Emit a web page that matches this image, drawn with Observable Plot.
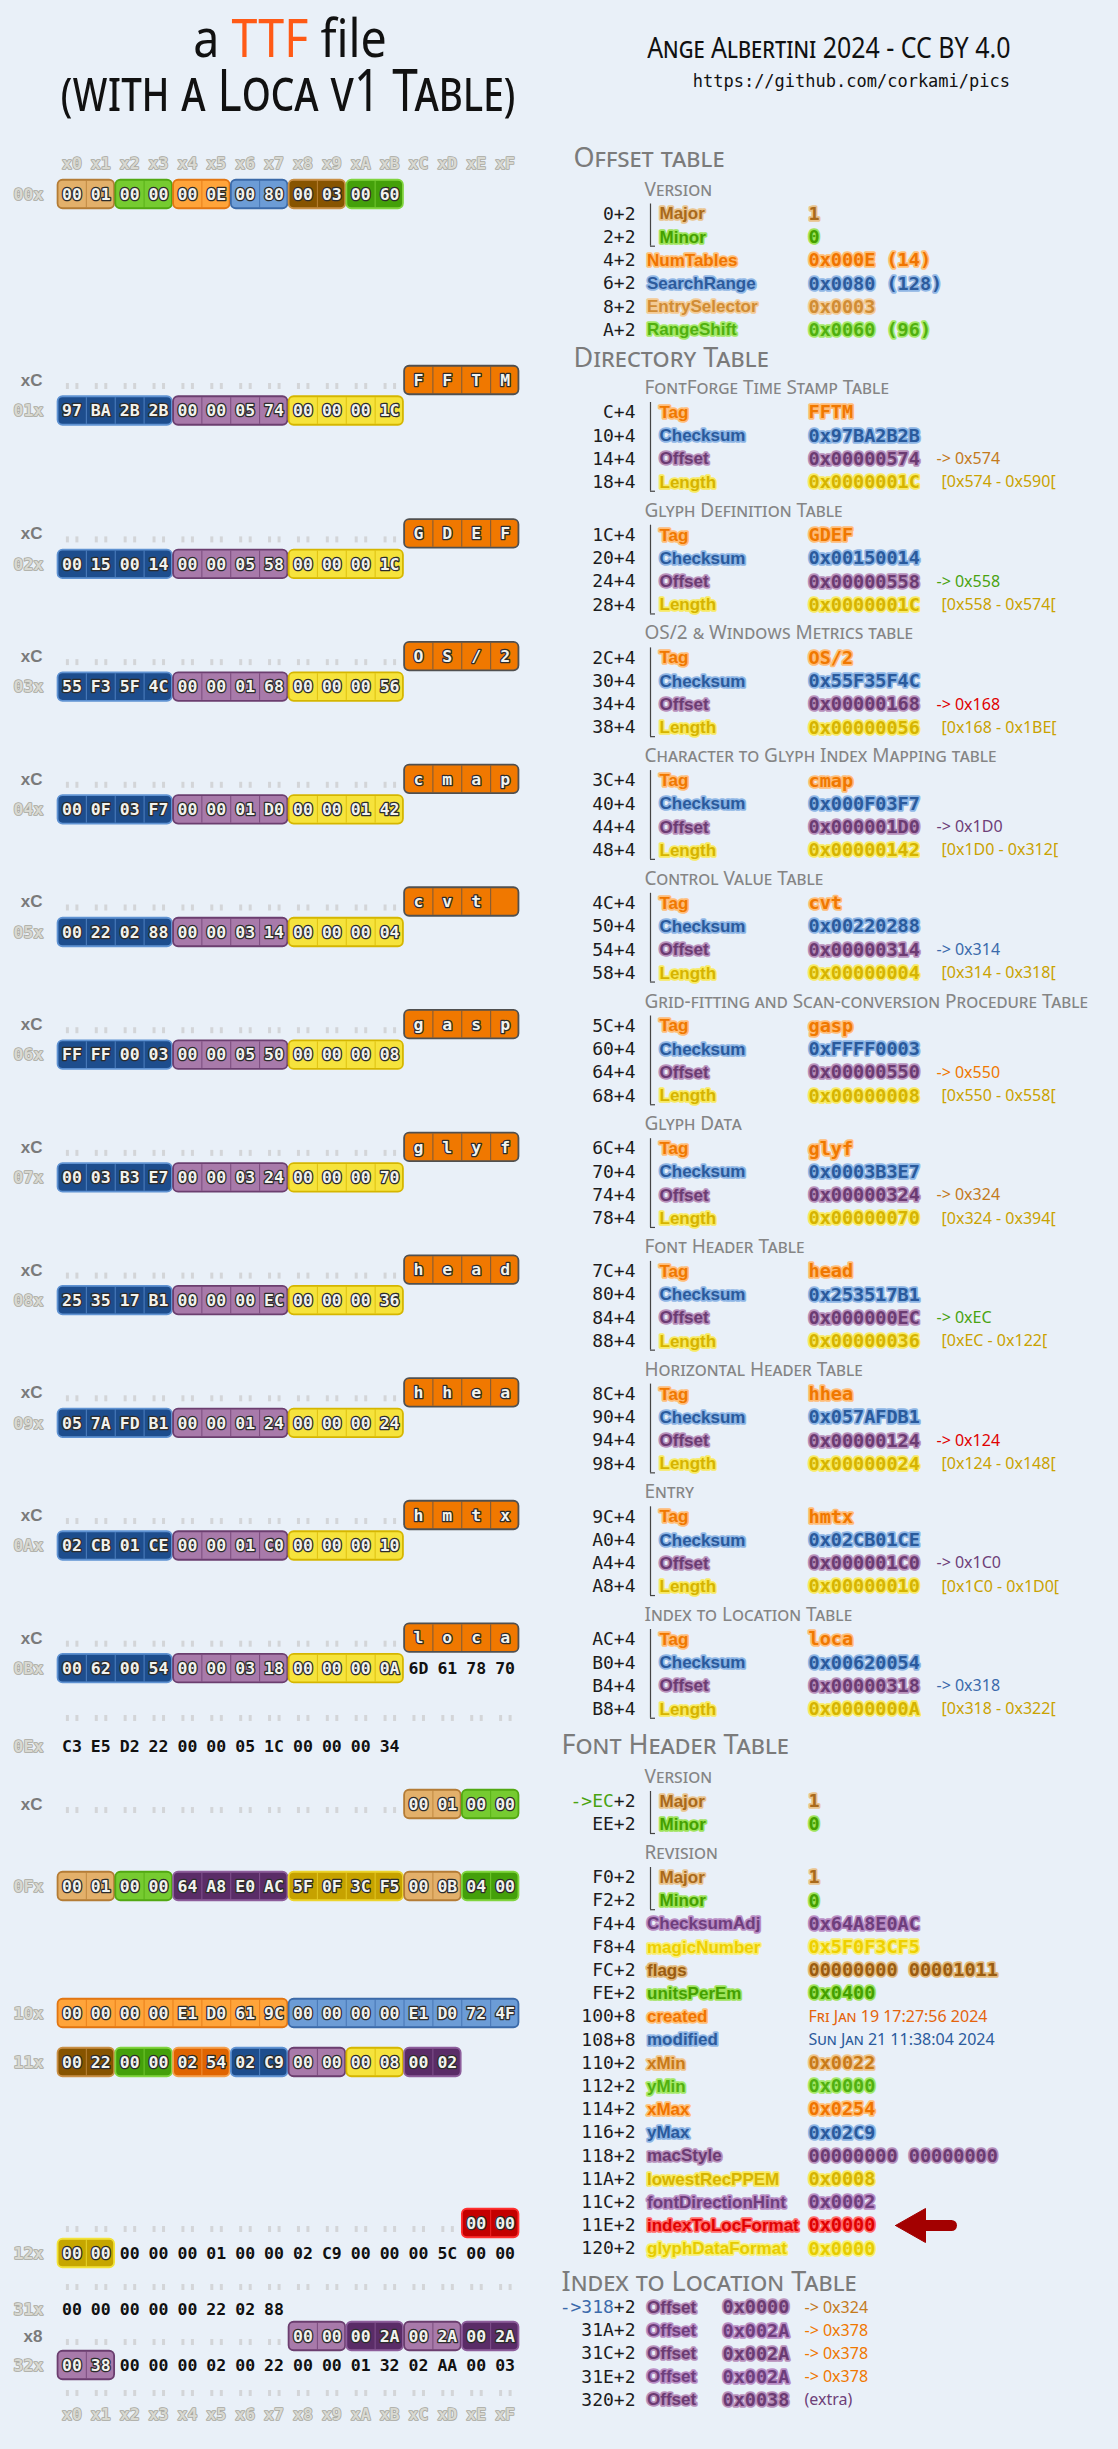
<!DOCTYPE html>
<html><head><meta charset="utf-8">
<script src="https://cdn.jsdelivr.net/npm/d3@7"></script>
<script src="https://cdn.jsdelivr.net/npm/@observablehq/plot@0.6"></script>
<style>
html,body{margin:0;padding:0;background:#e9f0f8;}
#page{position:relative;width:1118px;height:2449px;overflow:hidden;background:#e9f0f8;}
#head{position:absolute;left:0;top:0;width:1118px;height:140px;}
#head > div{position:absolute;white-space:nowrap;}
.t1{left:0;width:580px;text-align:center;top:17px;height:40px;line-height:40px;font:48px/40px "Noto Sans",sans-serif;color:#111;transform:scale(0.97,1.1);}
.t1 .ttf{color:#ff5a16;}
.t2{left:0;width:576px;text-align:center;top:68px;height:40px;font:46px/40px "Noto Sans",sans-serif;font-variant:small-caps;color:#111;transform:scale(1,1.25);}
.cr{right:108px;top:35px;height:24px;font:26px/24px "Noto Sans",sans-serif;font-variant:small-caps;color:#111;transform:scale(0.96,1.13);transform-origin:right center;}
.url{right:108px;top:72px;height:18px;font:17px/18px "DejaVu Sans Mono",monospace;color:#111;}
#chart{position:absolute;left:0;top:140px;}
</style></head>
<body><div id="page">
<div id="head">
  <div class="t1">a <span class="ttf">TTF</span> file</div>
  <div class="t2">(with a Loca v1 Table)</div>
  <div class="cr">Ange Albertini 2024 - CC BY 4.0</div>
  <div class="url">https://github.com/corkami/pics</div>
</div>
<div id="chart"></div>
</div>
<script>
// ================= DATA =================
const columnLabels = ["x0","x1","x2","x3","x4","x5","x6","x7","x8","x9","xA","xB","xC","xD","xE","xF"];

// Offset table (file offset 0x00)
const offsetTableBytes = [["00 01","major"],["00 00","minor"],["00 0E","numTables"],["00 80","searchRange"],["00 03","entrySelector"],["00 60","rangeShift"]];
const offsetTableRows = [
  {off:"0", size:2, name:"Major", value:"1", field:"major", group:"Version"},
  {off:"2", size:2, name:"Minor", value:"0", field:"minor", group:"Version"},
  {off:"4", size:2, name:"NumTables", value:"0x000E (14)", field:"numTables"},
  {off:"6", size:2, name:"SearchRange", value:"0x0080 (128)", field:"searchRange"},
  {off:"8", size:2, name:"EntrySelector", value:"0x0003", field:"entrySelector"},
  {off:"A", size:2, name:"RangeShift", value:"0x0060 (96)", field:"rangeShift"}
];

// Directory table entries
const dirTitles = ["FontForge Time Stamp Table","Glyph Definition Table","OS/2 & Windows Metrics table","Character to Glyph Index Mapping table","Control Value Table","Grid-fitting and Scan-conversion Procedure Table","Glyph Data","Font Header Table","Horizontal Header Table","Entry","Index to Location Table"];
const dirTags = ["FFTM","GDEF","OS/2","cmap","cvt ","gasp","glyf","head","hhea","hmtx","loca"];
const dirChecksums = ["97BA2B2B","00150014","55F35F4C","000F03F7","00220288","FFFF0003","0003B3E7","253517B1","057AFDB1","02CB01CE","00620054"];
const dirOffsets = ["00000574","00000558","00000168","000001D0","00000314","00000550","00000324","000000EC","00000124","000001C0","00000318"];
const dirLengths = ["0000001C","0000001C","00000056","00000142","00000004","00000008","00000070","00000036","00000024","00000010","0000000A"];
const dirRanges = ["[0x574 - 0x590[","[0x558 - 0x574[","[0x168 - 0x1BE[","[0x1D0 - 0x312[","[0x314 - 0x318[","[0x550 - 0x558[","[0x324 - 0x394[","[0xEC - 0x122[","[0x124 - 0x148[","[0x1C0 - 0x1D0[","[0x318 - 0x322["];
const dirPointerTones = ["brown","green","red","purple","blue","orange","brown","green","red","purple","blue"];

// Raw bytes elsewhere in the file
const bytes0BC = "6D 61 78 70";
const bytes0E0 = "C3 E5 D2 22 00 00 05 1C 00 00 00 34";
const bytes0EC = [["00 01","major"],["00 00","minor"]];
const bytes0F0 = [["00 01","major"],["00 00","minor"],["64 A8 E0 AC","checksumAdj"],["5F 0F 3C F5","magic"],["00 0B","flags"],["04 00","unitsPerEm"]];
const bytes100 = [["00 00 00 00 E1 D0 61 9C","created"],["00 00 00 00 E1 D0 72 4F","modified"]];
const bytes110 = [["00 22","xMin"],["00 00","yMin"],["02 54","xMax"],["02 C9","yMax"],["00 00","macStyle"],["00 08","lowest"],["00 02","fontDir"]];
const bytes11E = [["00 00","indexToLoc"]];
const bytes120 = [["00 00","glyphData"],["00 00 00 01 00 00 02 C9 00 00 00 5C 00 00",null]];
const bytes310 = [["00 00 00 00 00 22 02 88",null]];
const bytes318 = [["00 00","loca0"],["00 2A","loca1"],["00 2A","loca0"],["00 2A","loca1"]];
const bytes320 = [["00 38","loca0"],["00 00 00 02 00 22 00 00 01 32 02 AA 00 03",null]];

// Font header table
const headRows = [
  {off:"EC", ptr:true, size:2, name:"Major", value:"1", field:"major", group:"Version"},
  {off:"EE", size:2, name:"Minor", value:"0", field:"minor", group:"Version"},
  {off:"F0", size:2, name:"Major", value:"1", field:"major", group:"Revision"},
  {off:"F2", size:2, name:"Minor", value:"0", field:"minor", group:"Revision"},
  {off:"F4", size:4, name:"ChecksumAdj", value:"0x64A8E0AC", field:"checksumAdj"},
  {off:"F8", size:4, name:"magicNumber", value:"0x5F0F3CF5", field:"magic"},
  {off:"FC", size:2, name:"flags", value:"00000000 00001011", field:"flags"},
  {off:"FE", size:2, name:"unitsPerEm", value:"0x0400", field:"unitsPerEm"},
  {off:"100", size:8, name:"created", value:"Fri Jan 19 17:27:56 2024", field:"created", date:true},
  {off:"108", size:8, name:"modified", value:"Sun Jan 21 11:38:04 2024", field:"modified", date:true},
  {off:"110", size:2, name:"xMin", value:"0x0022", field:"xMin"},
  {off:"112", size:2, name:"yMin", value:"0x0000", field:"yMin"},
  {off:"114", size:2, name:"xMax", value:"0x0254", field:"xMax"},
  {off:"116", size:2, name:"yMax", value:"0x02C9", field:"yMax"},
  {off:"118", size:2, name:"macStyle", value:"00000000 00000000", field:"macStyle"},
  {off:"11A", size:2, name:"lowestRecPPEM", value:"0x0008", field:"lowest"},
  {off:"11C", size:2, name:"fontDirectionHint", value:"0x0002", field:"fontDir"},
  {off:"11E", size:2, name:"indexToLocFormat", value:"0x0000", field:"indexToLoc", highlight:true},
  {off:"120", size:2, name:"glyphDataFormat", value:"0x0000", field:"glyphData"}
];

// Index to location table (short offsets)
const locaRows = [
  {off:"318", ptr:true, value:"0x0000", target:"-> 0x324", tone:"brown", field:"loca0"},
  {off:"31A", value:"0x002A", target:"-> 0x378", tone:"orange", field:"loca1"},
  {off:"31C", value:"0x002A", target:"-> 0x378", tone:"orange", field:"loca0"},
  {off:"31E", value:"0x002A", target:"-> 0x378", tone:"orange", field:"loca1"},
  {off:"320", value:"0x0038", target:"(extra)", tone:"purple", field:"loca0"}
];

// ================= STYLES =================
const fieldStyle = {
  major:        {box:"#e3b06a", edge:"#b47c36", ink:"#a9691a", halo:"#e9c48e"},
  minor:        {box:"#76cb30", edge:"#52a812", ink:"#44a000", halo:"#9ee35a"},
  numTables:    {box:"#ffa43a", edge:"#e27612", ink:"#f07400", halo:"#ffbf76"},
  searchRange:  {box:"#6c9cd6", edge:"#3b6aa9", ink:"#2c5b9c", halo:"#91b7e5"},
  entrySelector:{box:"#875400", edge:"#c98f45", ink:"#d08c34", halo:"#f3cb96"},
  rangeShift:   {box:"#44a00a", edge:"#80d43e", ink:"#50b010", halo:"#a4e868"},
  tag:          {box:"#f07800", edge:"#505050", ink:"#f07800", halo:"#ffbd78"},
  checksum:     {box:"#1d4d8d", edge:"#5f92d2", ink:"#2a5a9c", halo:"#8db5e5"},
  offset:       {box:"#a87aaa", edge:"#6b3e6f", ink:"#6b3b72", halo:"#b78fbb"},
  length:       {box:"#f6e33c", edge:"#d5b600", ink:"#d6b400", halo:"#f8ea62"},
  checksumAdj:  {box:"#5a2c67", edge:"#8d5d9b", ink:"#6e3e7c", halo:"#b88cc4"},
  magic:        {box:"#c6a200", edge:"#ecd42c", ink:"#eed000", halo:"#f8ee72"},
  flags:        {box:"#e3b06a", edge:"#b47c36", ink:"#9a5c10", halo:"#e2b878"},
  unitsPerEm:   {box:"#44a00a", edge:"#80d43e", ink:"#44a000", halo:"#9ee35a"},
  created:      {box:"#ffa43a", edge:"#e27612", ink:"#f07400", halo:"#ffbf76", date:"#e4640c"},
  modified:     {box:"#6c9cd6", edge:"#3b6aa9", ink:"#2c5b9c", halo:"#91b7e5", date:"#2c5b9c"},
  xMin:         {box:"#875400", edge:"#c98f45", ink:"#c87a18", halo:"#f0c488"},
  yMin:         {box:"#44a00a", edge:"#80d43e", ink:"#50b010", halo:"#a4e868"},
  xMax:         {box:"#e06400", edge:"#f4a04e", ink:"#f07400", halo:"#ffbf76"},
  yMax:         {box:"#1d4d8d", edge:"#5f92d2", ink:"#2a5a9c", halo:"#8db5e5"},
  macStyle:     {box:"#a87aaa", edge:"#6b3e6f", ink:"#6b3b72", halo:"#b78fbb"},
  lowest:       {box:"#f6e33c", edge:"#d5b600", ink:"#d6b400", halo:"#f8ea62"},
  fontDir:      {box:"#5a2c67", edge:"#8d5d9b", ink:"#6e3e7c", halo:"#b88cc4"},
  indexToLoc:   {box:"#c40000", edge:"#ff3030", ink:"#e00000", halo:"#ff6a6a"},
  glyphData:    {box:"#c6a600", edge:"#f2e238", ink:"#e6cc00", halo:"#f8f070"},
  loca0:        {box:"#a87aaa", edge:"#6b3e6f", ink:"#6b3b72", halo:"#b78fbb"},
  loca1:        {box:"#5a2c67", edge:"#8d5d9b", ink:"#6e3e7c", halo:"#b88cc4"}
};
const toneColor = {brown:"#c47a1c", green:"#4aa310", red:"#e00000", purple:"#6e3f78", blue:"#3b6aab", orange:"#f07800"};
const rangeColor = "#c9a200";
const HAND = "'Noto Sans', sans-serif";
const MONO = "'DejaVu Sans Mono', monospace";
const SANS = "'Liberation Sans', Arial, sans-serif";

// ================= LAYOUT =================
const CX0 = 71.4, CW = 28.88, BOX_H = 28.5;
const cx = c => CX0 + CW * c;
const fmtHex = n => n.toString(16).toUpperCase();
const ROW = 23.25, DIR_TAG0 = 412, DIR_STEP = 122.7;
const OFF_X = 635, BRACKET_X = 650, NAME_X = 659, NAME_X_FREE = 646.5, VALUE_X = 808, PTR_X = 936, RANGE_X = 941;

// ---- hex dump lines ----
const lines = [];
const seg = (pairs) => pairs.map(([b, f]) => ({cells: b.split(" "), field: f}));
function addLine(label, kind, y, start, segs, dotsEnd) {
  lines.push({label, kind, y, start, segs, dotsEnd: dotsEnd ?? (kind === "tag" ? start : -1)});
}
addLine("00x", "row", 194, 0, seg(offsetTableBytes));
dirTags.forEach((tag, i) => {
  const ty = i === 0 ? 380 : 533.4 + DIR_STEP * (i - 1);
  addLine("xC", "tag", ty, 12, [{cells: Array.from(tag), field: "tag"}]);
  const segs = seg([[dirChecksums[i].match(/../g).join(" "), "checksum"], [dirOffsets[i].match(/../g).join(" "), "offset"], [dirLengths[i].match(/../g).join(" "), "length"]]);
  if (i === dirTags.length - 1) segs.push(...seg([[bytes0BC, null]]));
  addLine("0" + fmtHex(i + 1) + "x", "row", ty + 30.5, 0, segs);
});
addLine(null, "dots", 1718, 0, [], 16);
addLine("0Ex", "row", 1746, 0, seg([[bytes0E0, null]]));
addLine("xC", "tag", 1804, 12, seg(bytes0EC));
addLine("0Fx", "row", 1886, 0, seg(bytes0F0));
addLine("10x", "row", 2013, 0, seg(bytes100));
addLine("11x", "row", 2062, 0, seg(bytes110));
addLine(null, "tag", 2223, 14, seg(bytes11E));
addLine("12x", "row", 2253, 0, seg(bytes120));
addLine(null, "dots", 2287, 0, [], 16);
addLine("31x", "row", 2309, 0, seg(bytes310));
addLine("x8", "tag", 2336, 8, seg(bytes318));
addLine("32x", "row", 2365, 0, seg(bytes320));
addLine(null, "dots", 2393, 0, [], 16);

const boxes = [], seps = [], boxedText = [], plainText = [], dots = [], rowLabels = [], tagLabels = [];
for (const line of lines) {
  let c = line.start;
  for (const s of line.segs) {
    const n = s.cells.length;
    if (s.field) {
      const st = fieldStyle[s.field];
      boxes.push({x1: cx(c) - CW / 2 + 0.6, x2: cx(c + n - 1) + CW / 2 - 0.6, y1: line.y - BOX_H / 2, y2: line.y + BOX_H / 2, fill: st.box, stroke: st.edge});
      for (let k = 1; k < n; k++) seps.push({x: cx(c + k) - CW / 2, y1: line.y - BOX_H / 2 + 1, y2: line.y + BOX_H / 2 - 1, stroke: st.edge});
      s.cells.forEach((t, k) => boxedText.push({x: cx(c + k), y: line.y, t}));
    } else {
      s.cells.forEach((t, k) => plainText.push({x: cx(c + k), y: line.y, t}));
    }
    c += n;
  }
  const dy = line.kind === "tag" ? 6 : 0;
  for (let k = 0; k < line.dotsEnd; k++) {
    dots.push({x: cx(k) - 4.5, y: line.y + dy});
    dots.push({x: cx(k) + 5, y: line.y + dy});
  }
  if (line.label && line.kind === "row") rowLabels.push({t: line.label, y: line.y});
  if (line.label && line.kind === "tag") tagLabels.push({t: line.label, y: line.y});
}
const colHeads = [];
columnLabels.forEach((t, c) => { colHeads.push({t, x: cx(c), y: 163}); colHeads.push({t, x: cx(c), y: 2414}); });

// ---- right side ----
const bigHeads = [
  {t: "Offset table", x: 573, y: 158},
  {t: "Directory Table", x: 573, y: 358},
  {t: "Font Header Table", x: 561, y: 1745},
  {t: "Index to Location Table", x: 561, y: 2282}
];
const subHeads = [{t: "Version", y: 189}];
const rows = [], annots = [], brackets = [], ptrPrefix = [];

offsetTableRows.forEach((r, k) => {
  const y = 213.5 + 23.2 * k;
  rows.push({off: r.off + "+" + r.size, y, name: r.name, value: r.value, field: r.field, nx: r.group ? NAME_X : NAME_X_FREE, vx: VALUE_X});
});
brackets.push({y1: 213.5 - 10, y2: 213.5 + 23.2 + 9});

dirTags.forEach((tag, i) => {
  const ty = DIR_TAG0 + DIR_STEP * i;
  subHeads.push({t: dirTitles[i], y: ty - 24.5});
  const base = 0xC + 16 * i;
  const f = [["Tag", tag.trim(), "tag"], ["Checksum", "0x" + dirChecksums[i], "checksum"], ["Offset", "0x" + dirOffsets[i], "offset"], ["Length", "0x" + dirLengths[i], "length"]];
  f.forEach(([name, value, field], k) => rows.push({off: fmtHex(base + 4 * k) + "+4", y: ty + ROW * k, name, value, field, nx: NAME_X, vx: VALUE_X}));
  annots.push({t: "-> 0x" + fmtHex(parseInt(dirOffsets[i], 16)), x: PTR_X, y: ty + 2 * ROW, fill: toneColor[dirPointerTones[i]]});
  annots.push({t: dirRanges[i], x: RANGE_X, y: ty + 3 * ROW, fill: rangeColor});
  brackets.push({y1: ty - 10, y2: ty + 3 * ROW + 9});
});

subHeads.push({t: "Version", y: 1776});
subHeads.push({t: "Revision", y: 1852});
const dates = [];
let arrowY = 0;
headRows.forEach((r, k) => {
  const y = k < 2 ? 1801 + 23 * k : 1877 + 23.2 * (k - 2);
  const st = fieldStyle[r.field];
  const row = {off: (r.ptr ? "" : r.off) + "+" + r.size, y, name: r.name, value: r.date ? "" : r.value, field: r.field, nx: r.group ? NAME_X : NAME_X_FREE, vx: VALUE_X};
  if (r.ptr) ptrPrefix.push({t: "->" + r.off, x: OFF_X - 2 * 10.84, y, fill: "#4aa310"});
  rows.push(row);
  if (r.date) dates.push({t: r.value, x: VALUE_X, y, fill: st.date});
  if (r.highlight) arrowY = y;
});
brackets.push({y1: 1801 - 10, y2: 1824 + 9});
brackets.push({y1: 1877 - 10, y2: 1877 + 23.2 + 9});

locaRows.forEach((r, k) => {
  const y = 2307 + 23.1 * k;
  rows.push({off: (r.ptr ? "" : r.off) + "+2", y, name: "Offset", value: r.value, field: r.field, nx: NAME_X_FREE, vx: 722});
  if (r.ptr) ptrPrefix.push({t: "->" + r.off, x: OFF_X - 2 * 10.84, y, fill: "#3b6aab"});
  annots.push({t: r.target, x: 804, y, fill: toneColor[r.tone], sc: r.tone === "purple"});
});

const arrowHead = [[895, arrowY], [925, arrowY - 17], [925, arrowY + 17], [895, arrowY]];
const arrowBody = [[922, arrowY], [951, arrowY]];

// ================= PLOT =================
const chart = Plot.plot({
  width: 1118, height: 2309, margin: 0,
  x: {type: "linear", domain: [0, 1118], range: [0, 1118], axis: null},
  y: {type: "linear", domain: [140, 2449], range: [0, 2309], axis: null},
  color: {type: "identity"},
  style: {background: "transparent", overflow: "visible"},
  marks: [
    // hex dump
    Plot.text(colHeads, {x: "x", y: "y", text: "t", fill: "#d9d9d2", stroke: "#a8a8a0", strokeWidth: 1.6, fontFamily: MONO, fontWeight: "bold", fontSize: 16.5, ariaLabel: "colhead"}),
    Plot.text(rowLabels, {x: 28, y: "y", text: "t", fill: "#d9d9d2", stroke: "#a8a8a0", strokeWidth: 1.6, fontFamily: MONO, fontWeight: "bold", fontSize: 16.5, ariaLabel: "colhead"}),
    Plot.text(tagLabels, {x: 42, y: "y", text: "t", textAnchor: "end", fill: "#7a7a7a", fontFamily: SANS, fontWeight: "bold", fontSize: 17}),
    Plot.ruleX(dots, {x: "x", y1: d => d.y - 3, y2: d => d.y + 3, stroke: "#d3d5d8", strokeWidth: 3}),
    Plot.rect(boxes, {x1: "x1", x2: "x2", y1: "y1", y2: "y2", fill: "fill", stroke: "stroke", strokeWidth: 1.8, rx: 5}),
    Plot.ruleX(seps, {x: "x", y1: "y1", y2: "y2", stroke: "stroke", strokeWidth: 1, strokeOpacity: 0.75}),
    Plot.text(boxedText, {x: "x", y: "y", text: "t", fill: "#f2f2ee", stroke: "#2c2c2c", strokeWidth: 2.6, fontFamily: MONO, fontWeight: "bold", fontSize: 16.5, ariaLabel: "hexbyte"}),
    Plot.text(plainText, {x: "x", y: "y", text: "t", fill: "#111", fontFamily: MONO, fontWeight: "bold", fontSize: 16.5, ariaLabel: "hexplain"}),
    // right side
    Plot.text(bigHeads, {x: "x", y: "y", text: "t", textAnchor: "start", fill: "#7b7b7b", fontFamily: HAND, fontSize: 27, fontVariant: "small-caps", ariaLabel: "bighead"}),
    Plot.text(subHeads, {x: 644, y: "y", text: "t", textAnchor: "start", fill: "#858585", fontFamily: HAND, fontSize: 19, fontVariant: "small-caps", ariaLabel: "subhead"}),
    Plot.text(rows, {x: OFF_X, y: "y", text: "off", textAnchor: "end", fill: "#1c1c1c", fontFamily: MONO, fontSize: 18}),
    Plot.text(ptrPrefix, {x: "x", y: "y", text: "t", textAnchor: "end", fill: "fill", fontFamily: MONO, fontSize: 18}),
    Plot.ruleX(brackets, {x: BRACKET_X, y1: "y1", y2: "y2", stroke: "#444", strokeWidth: 1.2}),
    Plot.ruleY(brackets, {y: "y2", x1: BRACKET_X, x2: BRACKET_X + 5, stroke: "#444", strokeWidth: 1.2}),
    Plot.text(rows, {x: "nx", y: "y", text: "name", textAnchor: "start", fill: d => fieldStyle[d.field].ink, stroke: d => fieldStyle[d.field].halo, strokeWidth: 3.5, fontFamily: SANS, fontWeight: "bold", fontSize: 17}),
    Plot.text(rows, {x: "vx", y: "y", text: "value", textAnchor: "start", fill: d => fieldStyle[d.field].ink, stroke: d => fieldStyle[d.field].halo, strokeWidth: 3.5, fontFamily: MONO, fontWeight: "bold", fontSize: 18.5}),
    Plot.text(dates, {x: "x", y: "y", text: "t", textAnchor: "start", fill: "fill", fontFamily: HAND, fontSize: 16, fontVariant: "small-caps", ariaLabel: "hand"}),
    Plot.text(annots, {x: "x", y: "y", text: "t", textAnchor: "start", fill: "fill", fontFamily: HAND, fontSize: 16, fontVariant: d => d.sc ? "small-caps" : "normal", ariaLabel: "hand"}),
    Plot.line(arrowBody, {x: d => d[0], y: d => d[1], stroke: "#a30000", strokeWidth: 11, strokeLinecap: "round"}),
    Plot.line(arrowHead, {x: d => d[0], y: d => d[1], fill: "#a30000", stroke: "#a30000", strokeWidth: 1, strokeLinejoin: "round"})
  ]
});

// reshape glyphs to echo the tall, narrow lettering of the original
function stretch(label, sx, sy) {
  chart.querySelectorAll(`g[aria-label="${label}"] text`).forEach(t => {
    let tr = t.getAttribute("transform");
    if (!tr) {
      const x = +t.getAttribute("x") || 0, y = +t.getAttribute("y") || 0;
      t.removeAttribute("x"); t.removeAttribute("y");
      tr = `translate(${x},${y})`;
    }
    t.setAttribute("transform", `${tr} scale(${sx},${sy})`);
  });
}
stretch("hexbyte", 1, 1.55);
stretch("hexplain", 1, 1.55);
stretch("colhead", 1, 1.15);
stretch("bighead", 0.9, 1.12);
stretch("subhead", 0.95, 1.1);
stretch("hand", 0.95, 1.15);
document.getElementById("chart").appendChild(chart);
</script>
</body></html>
